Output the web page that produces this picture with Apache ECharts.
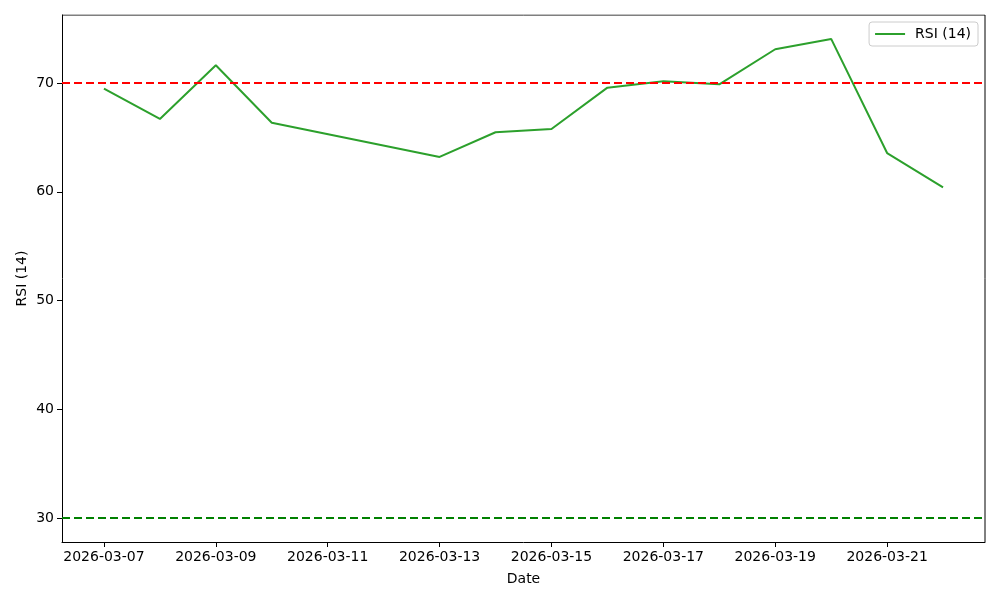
<!DOCTYPE html>
<html>
<head>
<meta charset="utf-8">
<script src="https://cdn.jsdelivr.net/npm/echarts@6/dist/echarts.min.js"></script>
<style>
  html, body { margin: 0; padding: 0; background: #fff; }
  #main { width: 1000px; height: 600px; }
</style>
</head>
<body>
<div id="main"></div>
<script>
  // data
  const dates = ['2026-03-07', '2026-03-08', '2026-03-09', '2026-03-10', '2026-03-13', '2026-03-14', '2026-03-15',
    '2026-03-16', '2026-03-17', '2026-03-18', '2026-03-19', '2026-03-20', '2026-03-21', '2026-03-22'];
  const rsi = [69.48, 66.69, 71.63, 66.35, 63.2, 65.47, 65.77, 69.57, 70.16, 69.88, 73.1, 74.05, 63.56, 60.41];
  const xTicks = ['2026-03-07', '2026-03-09', '2026-03-11', '2026-03-13', '2026-03-15', '2026-03-17', '2026-03-19', '2026-03-21'];
  const yTicks = [30, 40, 50, 60, 70];
  const overbought = 70;
  const oversold = 30;

  const DAY = 86400000;
  const t0 = Date.UTC(2026, 2, 7);
  function dayNum(s) {
    const p = s.split('-');
    return (Date.UTC(+p[0], +p[1] - 1, +p[2]) - t0) / DAY;
  }
  function dayLabel(v) {
    const d = new Date(t0 + Math.round(v) * DAY);
    const mm = String(d.getUTCMonth() + 1).padStart(2, '0');
    const dd = String(d.getUTCDate()).padStart(2, '0');
    return d.getUTCFullYear() + '-' + mm + '-' + dd;
  }

  const xs = dates.map(dayNum);
  const xMin = xs[0] - 0.75, xMax = xs[xs.length - 1] + 0.75;
  const yMin = 27.8, yMax = 76.25;

  let myChart = echarts.init(document.getElementById('main'));
  const font = 'DejaVu Sans';
  myChart.setOption({
    animation: false,
    textStyle: { fontFamily: font },
    grid: { left: 62, right: 15, top: 15, bottom: 58 },
    legend: {
      right: 22, top: 22,
      padding: [5, 7, 5, 6],
      borderColor: '#cccccc', borderWidth: 1, borderRadius: 3,
      backgroundColor: '#fff',
      itemWidth: 30, itemHeight: 2, itemGap: 10,
      icon: 'rect',
      textStyle: { fontFamily: font, fontSize: 14, color: '#000', padding: [0, 0, 0, 5] },
      data: [{ name: 'RSI (14)', itemStyle: { color: '#2ca02c' } }]
    },
    xAxis: {
      type: 'value',
      min: xMin, max: xMax,
      name: 'Date', nameLocation: 'middle', nameGap: 30,
      nameTextStyle: { fontFamily: font, fontSize: 14, color: '#000' },
      axisLine: { onZero: false, lineStyle: { color: '#000', width: 1 } },
      axisTick: { show: true, length: 5, customValues: xTicks.map(dayNum), lineStyle: { color: '#000' } },
      axisLabel: { customValues: xTicks.map(dayNum), formatter: dayLabel, color: '#000', fontSize: 14, margin: 8 },
      splitLine: { show: false }
    },
    yAxis: {
      type: 'value',
      min: yMin, max: yMax,
      name: 'RSI (14)', nameLocation: 'middle', nameGap: 33,
      nameMoveOverlap: false,
      nameTextStyle: { fontFamily: font, fontSize: 14, color: '#000' },
      axisLine: { show: true, onZero: false, lineStyle: { color: '#000', width: 1 } },
      axisTick: { show: true, length: 5, customValues: yTicks, lineStyle: { color: '#000' } },
      axisLabel: { customValues: yTicks, color: '#000', fontSize: 14, margin: 8 },
      splitLine: { show: false }
    },
    series: [
      {
        name: 'RSI (14)',
        type: 'line',
        showSymbol: false,
        lineStyle: { color: '#2ca02c', width: 2 },
        itemStyle: { color: '#2ca02c' },
        data: xs.map((x, i) => [x, rsi[i]]),
        markLine: {
          silent: true,
          symbol: 'none',
          label: { show: false },
          data: [
            { yAxis: overbought, lineStyle: { color: '#ff0000', type: [8, 4], width: 2 } },
            { yAxis: oversold, lineStyle: { color: '#008000', type: [8, 4], width: 2 } }
          ]
        }
      },
      {
        // top and right frame
        type: 'line',
        showSymbol: false,
        silent: true,
        lineStyle: { color: '#000', width: 1 },
        data: [[xMin, yMax], [xMax, yMax], [xMax, yMin]]
      }
    ]
  });
</script>
</body>
</html>
